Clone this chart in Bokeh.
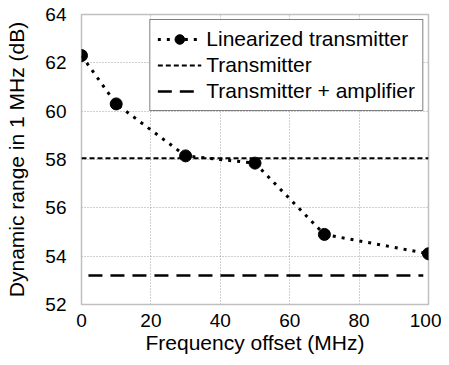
from bokeh.plotting import figure
from bokeh.models import Range1d, FixedTicker, Legend, LegendItem
from bokeh.embed import file_html
from bokeh.resources import INLINE

freq = [0, 10, 30, 50, 70, 100]
linearized = [62.3, 60.3, 58.15, 57.85, 54.9, 54.1]
tx_x = [0, 100]
tx_y = [58.05, 58.05]
amp_x = [2, 98.5]
amp_y = [53.2, 53.2]
x_ticks = [0, 20, 40, 60, 80, 100]
y_ticks = [52, 54, 56, 58, 60, 62, 64]

FONT = "Liberation Sans"

p = figure(frame_width=347, frame_height=290, output_backend="svg", toolbar_location=None,
           x_range=Range1d(0, 100), y_range=Range1d(52, 64),
           min_border_left=81, min_border_top=14, min_border_right=13, min_border_bottom=10)

p.outline_line_color = "#c0c0c0"
p.outline_line_width = 1.5
p.background_fill_color = "white"
p.border_fill_color = "white"

for ax in (p.xaxis[0], p.yaxis[0]):
    ax.axis_line_color = None
    ax.major_tick_line_color = None
    ax.minor_tick_line_color = None
    ax.major_label_text_font = FONT
    ax.major_label_text_font_size = "19px"
    ax.major_label_text_color = "black"
    ax.axis_label_text_font = FONT
    ax.axis_label_text_font_size = "21px"
    ax.axis_label_text_font_style = "normal"
    ax.axis_label_text_color = "black"

p.xaxis.ticker = FixedTicker(ticks=x_ticks)
p.yaxis.ticker = FixedTicker(ticks=y_ticks)
p.xaxis.major_label_standoff = 3
p.yaxis.major_label_standoff = 9
p.xaxis.axis_label = "Frequency offset (MHz)"
p.yaxis.axis_label = "Dynamic range in 1 MHz (dB)"
p.xaxis.axis_label_standoff = 1
p.yaxis.axis_label_standoff = 14

p.grid.grid_line_color = "#a0a0a0"
p.grid.grid_line_dash = "1 2"
p.grid.grid_line_width = 1

l1 = p.line(freq, linearized, line_color="black", line_width=3, line_dash="3 6")
c1 = p.scatter(freq, linearized, size=12, color="black")
l2 = p.line(tx_x, tx_y, line_color="black", line_width=2, line_dash="5 3")
l3 = p.line(amp_x, amp_y, line_color="black", line_width=2.5, line_dash="14 8")

legend = Legend(items=[
    LegendItem(label="Linearized transmitter", renderers=[l1, c1]),
    LegendItem(label="Transmitter", renderers=[l2]),
    LegendItem(label="Transmitter + amplifier", renderers=[l3]),
], location="top_right")
legend.label_text_font = FONT
legend.label_text_font_size = "21px"
legend.label_text_color = "black"
legend.border_line_color = "black"
legend.border_line_width = 1.5
legend.background_fill_color = "white"
legend.background_fill_alpha = 1
legend.margin = 5
legend.padding = 7
legend.spacing = 2
legend.glyph_width = 44
legend.label_standoff = 5
legend.label_height = 24
legend.glyph_height = 24
p.add_layout(legend)

open("out.html", "w").write(file_html(p, INLINE))
